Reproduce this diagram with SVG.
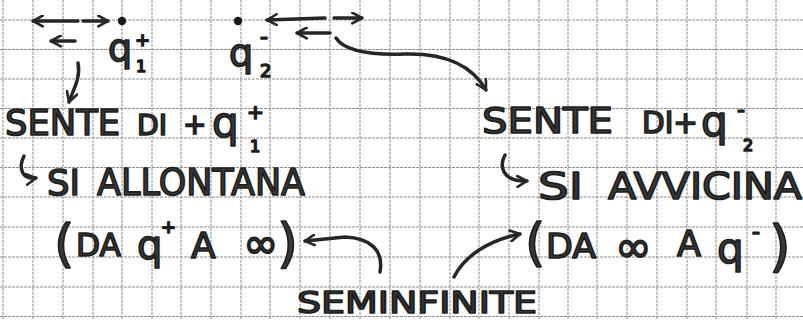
<svg xmlns="http://www.w3.org/2000/svg" width="803" height="320" viewBox="0 0 803 320">
  <defs>
    <style>
      .grid line { stroke: #8e8e8e; stroke-width: 1; stroke-dasharray: 3 1; }
      .ink { font-family: "DejaVu Sans", "Liberation Sans", sans-serif; font-weight: normal; fill: #383838; stroke: #1e1e1e; stroke-width: 1.7; stroke-linejoin: round; }
      .pen { fill: none; stroke: #262626; stroke-width: 3.5; stroke-linecap: round; stroke-linejoin: round; }
      .dot { fill: #1a1a1a; }
    </style>
    <marker id="head" viewBox="0 0 12 12" refX="10" refY="6" markerWidth="13" markerHeight="13" markerUnits="userSpaceOnUse" orient="auto-start-reverse">
      <path d="M1,1 L10,6 L1,11" fill="none" stroke="#262626" stroke-width="2.4" stroke-linecap="round" stroke-linejoin="round"/>
    </marker>
  </defs>

  <rect width="803" height="320" fill="#ffffff"/>

  <!-- squared paper -->
  <g class="grid">
    <line x1="3" y1="0" x2="3" y2="320"/>
    <line x1="33" y1="0" x2="33" y2="320"/>
    <line x1="63" y1="0" x2="63" y2="320"/>
    <line x1="93" y1="0" x2="93" y2="320"/>
    <line x1="122" y1="0" x2="122" y2="320"/>
    <line x1="152" y1="0" x2="152" y2="320"/>
    <line x1="181" y1="0" x2="181" y2="320"/>
    <line x1="211" y1="0" x2="211" y2="320"/>
    <line x1="241" y1="0" x2="241" y2="320"/>
    <line x1="270" y1="0" x2="270" y2="320"/>
    <line x1="300" y1="0" x2="300" y2="320"/>
    <line x1="330" y1="0" x2="330" y2="320"/>
    <line x1="360" y1="0" x2="360" y2="320"/>
    <line x1="390" y1="0" x2="390" y2="320"/>
    <line x1="420" y1="0" x2="420" y2="320"/>
    <line x1="450" y1="0" x2="450" y2="320"/>
    <line x1="479" y1="0" x2="479" y2="320"/>
    <line x1="509" y1="0" x2="509" y2="320"/>
    <line x1="539" y1="0" x2="539" y2="320"/>
    <line x1="568" y1="0" x2="568" y2="320"/>
    <line x1="597" y1="0" x2="597" y2="320"/>
    <line x1="627" y1="0" x2="627" y2="320"/>
    <line x1="657" y1="0" x2="657" y2="320"/>
    <line x1="687" y1="0" x2="687" y2="320"/>
    <line x1="716" y1="0" x2="716" y2="320"/>
    <line x1="747" y1="0" x2="747" y2="320"/>
    <line x1="776" y1="0" x2="776" y2="320"/>
    <line x1="0" y1="20" x2="803" y2="20"/>
    <line x1="0" y1="49.5" x2="803" y2="49.5"/>
    <line x1="0" y1="79" x2="803" y2="79"/>
    <line x1="0" y1="108.5" x2="803" y2="108.5"/>
    <line x1="0" y1="138" x2="803" y2="138"/>
    <line x1="0" y1="167.5" x2="803" y2="167.5"/>
    <line x1="0" y1="197" x2="803" y2="197"/>
    <line x1="0" y1="227" x2="803" y2="227"/>
    <line x1="0" y1="257" x2="803" y2="257"/>
    <line x1="0" y1="287" x2="803" y2="287"/>
    <line x1="0" y1="316.5" x2="803" y2="316.5"/>
  </g>

  <!-- charge q1+ and its field directions -->
  <g id="charge-q1">
    <line class="pen" x1="78" y1="21" x2="33" y2="21" marker-end="url(#head)"/>
    <line class="pen" x1="83" y1="21" x2="108" y2="21" marker-end="url(#head)"/>
    <line class="pen" x1="75" y1="41" x2="51" y2="41" marker-end="url(#head)"/>
    <circle class="dot" cx="122" cy="21" r="4.2"/>
    <text class="ink" x="108" y="61" font-size="38">q</text>
    <text class="ink" x="135" y="46" font-size="18">+</text>
    <text class="ink" x="136" y="72" font-size="16">1</text>
    <path class="pen" d="M78,63 C81,78 73,90 69,102" marker-end="url(#head)"/>
  </g>

  <!-- charge q2- and its field directions -->
  <g id="charge-q2">
    <circle class="dot" cx="238" cy="21" r="4.2"/>
    <line class="pen" x1="325" y1="18" x2="267" y2="20" marker-end="url(#head)"/>
    <line class="pen" x1="334" y1="18" x2="362" y2="18" marker-end="url(#head)"/>
    <line class="pen" x1="330" y1="33" x2="297" y2="33" marker-end="url(#head)"/>
    <text class="ink" x="229" y="66" font-size="38">q</text>
    <text class="ink" x="260" y="44" font-size="22">-</text>
    <text class="ink" x="260" y="77" font-size="18">2</text>
    <path class="pen" d="M336,38 C345,52 375,55 405,54 C440,53 470,62 486,90" marker-end="url(#head)"/>
  </g>

  <!-- left column: what q1+ feels -->
  <g id="note-left">
    <text class="ink" x="5" y="135" font-size="36" textLength="115" lengthAdjust="spacingAndGlyphs">SENTE</text>
    <text class="ink" x="137" y="135" font-size="28" textLength="30" lengthAdjust="spacingAndGlyphs">DI</text>
    <text class="ink" x="183" y="134" font-size="28">+</text>
    <text class="ink" x="212" y="137" font-size="42">q</text>
    <text class="ink" x="247" y="119" font-size="20">+</text>
    <text class="ink" x="250" y="152" font-size="16">1</text>
    <path class="pen" d="M24,156 C18,168 22,180 36,178" marker-end="url(#head)"/>
    <text class="ink" x="47" y="195" font-size="36" textLength="33" lengthAdjust="spacingAndGlyphs">SI</text>
    <text class="ink" x="97" y="195" font-size="38" textLength="208" lengthAdjust="spacingAndGlyphs">ALLONTANA</text>
  </g>

  <!-- right column: what q2- feels -->
  <g id="note-right">
    <text class="ink" x="482" y="133" font-size="36" textLength="131" lengthAdjust="spacingAndGlyphs">SENTE</text>
    <text class="ink" x="642" y="133" font-size="30" textLength="56" lengthAdjust="spacingAndGlyphs">DI+</text>
    <text class="ink" x="701" y="136" font-size="42">q</text>
    <text class="ink" x="737" y="117" font-size="22">-</text>
    <text class="ink" x="743" y="151" font-size="16">2</text>
    <path class="pen" d="M505,155 C499,166 502,182 527,181" marker-end="url(#head)"/>
    <text class="ink" x="538" y="199" font-size="38" textLength="45" lengthAdjust="spacingAndGlyphs">SI</text>
    <text class="ink" x="608" y="199" font-size="38" textLength="194" lengthAdjust="spacingAndGlyphs">AVVICINA</text>
  </g>

  <!-- ranges -->
  <g id="range-left">
    <text class="ink" x="54" y="261" font-size="52">(</text>
    <text class="ink" x="76" y="256" font-size="32" textLength="45" lengthAdjust="spacingAndGlyphs">DA</text>
    <text class="ink" x="137" y="259" font-size="40">q</text>
    <text class="ink" x="161" y="233" font-size="18">+</text>
    <text class="ink" x="191" y="258" font-size="36">A</text>
    <text class="ink" x="243" y="258" font-size="42">∞</text>
    <text class="ink" x="277" y="262" font-size="54">)</text>
  </g>

  <g id="range-right">
    <text class="ink" x="525" y="260" font-size="52">(</text>
    <text class="ink" x="546" y="258" font-size="34" textLength="50" lengthAdjust="spacingAndGlyphs">DA</text>
    <text class="ink" x="615" y="262" font-size="44">∞</text>
    <text class="ink" x="677" y="256" font-size="35">A</text>
    <text class="ink" x="717" y="263" font-size="42">q</text>
    <text class="ink" x="752" y="239" font-size="22">-</text>
    <text class="ink" x="769" y="265" font-size="56">)</text>
  </g>

  <g id="label-seminfinite">
    <text class="ink" x="297" y="313" font-size="31" textLength="240" lengthAdjust="spacingAndGlyphs">SEMINFINITE</text>
  </g>

  <g id="connectors">
    <path class="pen" d="M380,272 C384,250 370,238 345,237 L305,241" marker-end="url(#head)"/>
    <path class="pen" d="M454,277 C465,255 490,240 520,234" marker-end="url(#head)"/>
  </g>
</svg>
